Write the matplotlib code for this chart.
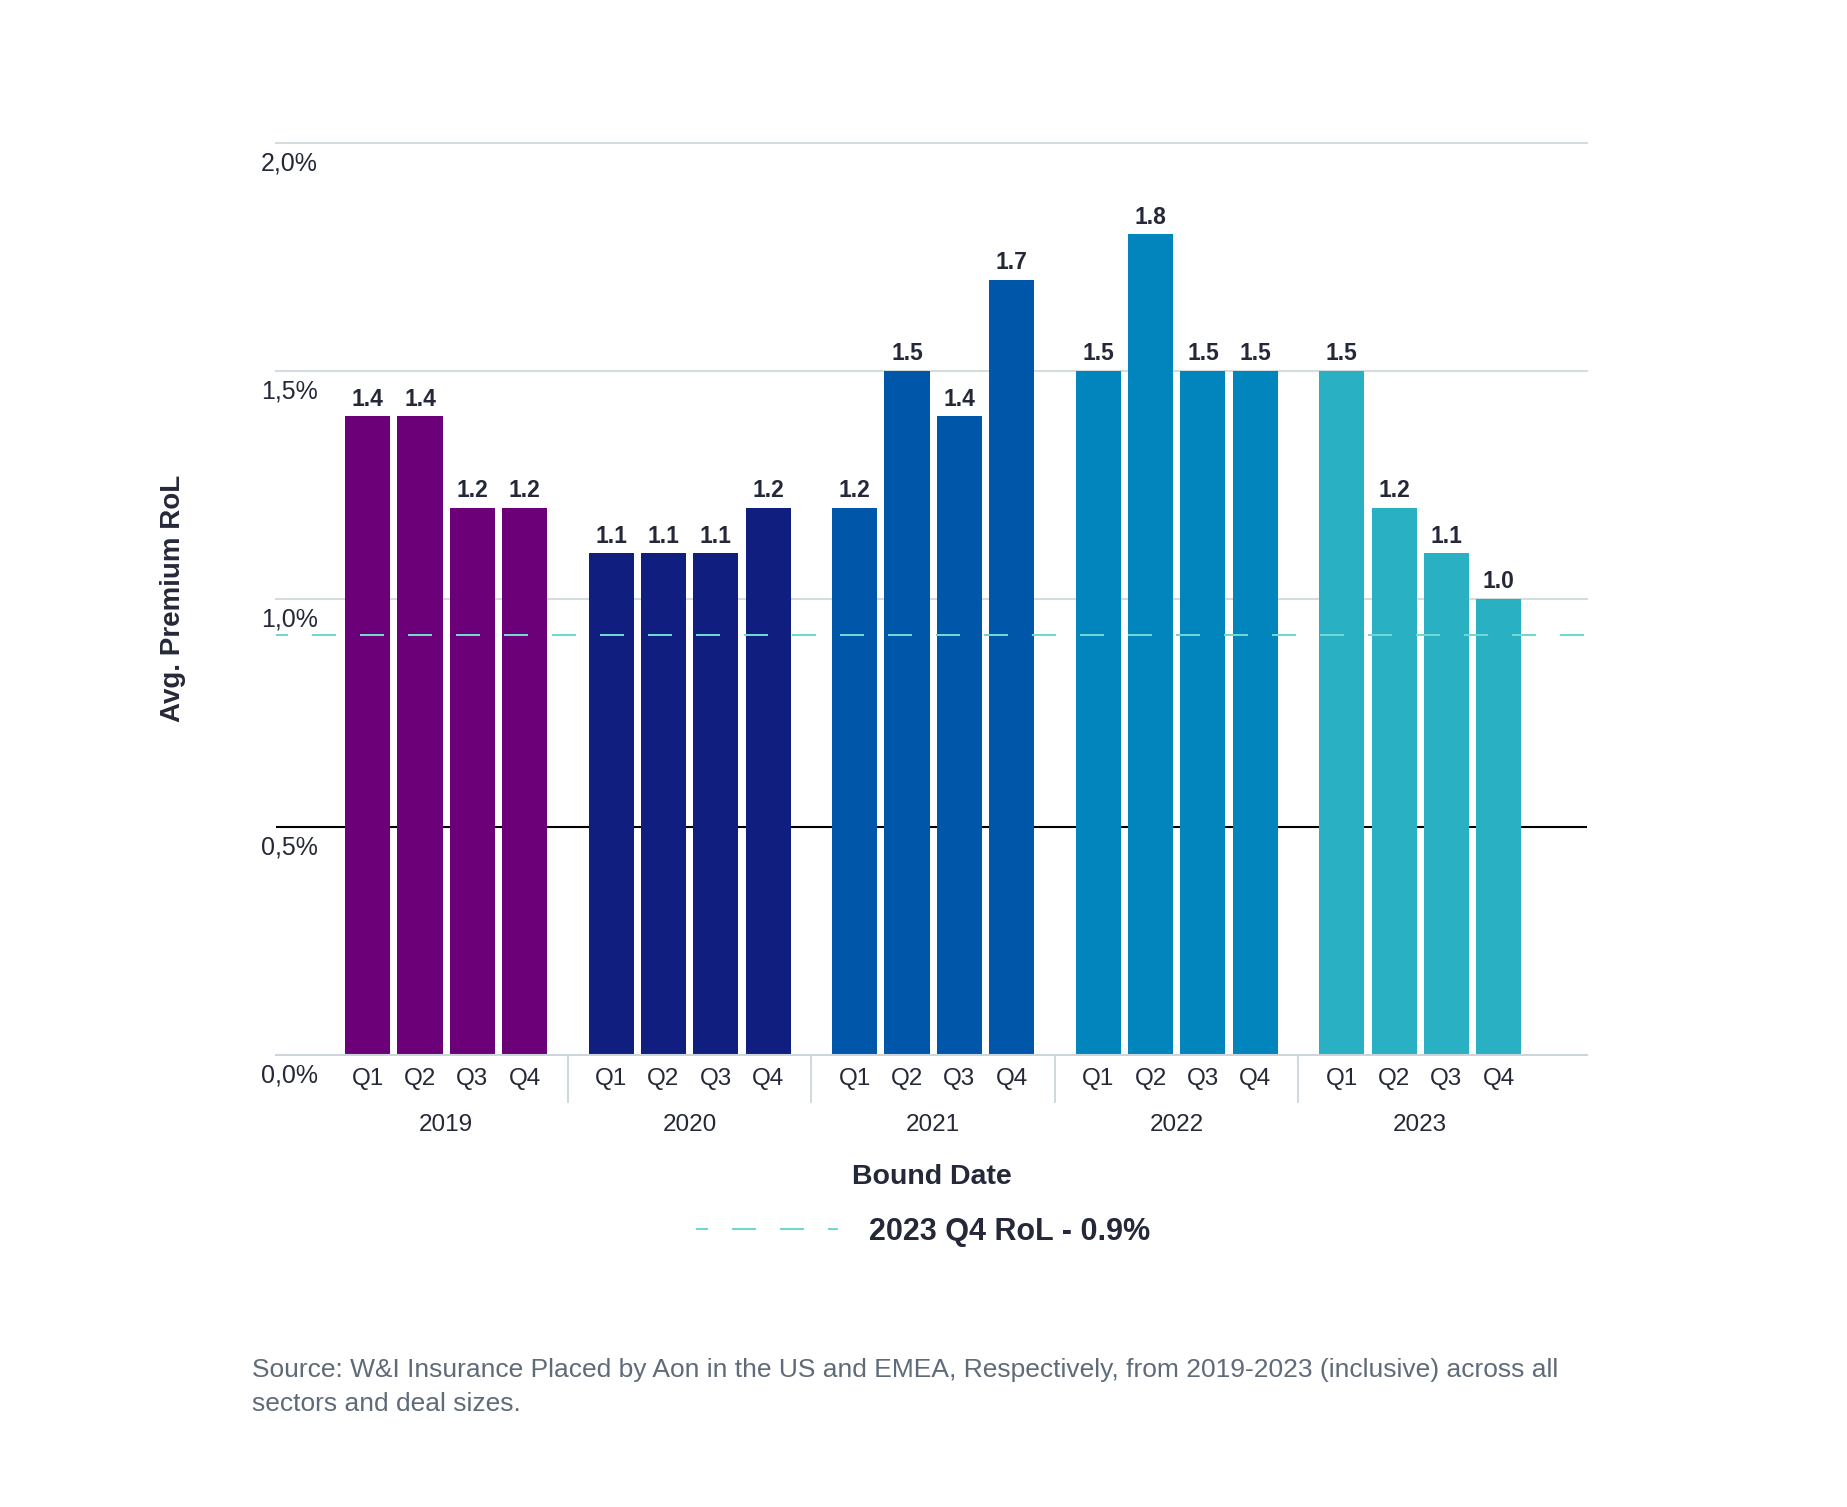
import numpy as np
import matplotlib
matplotlib.use("Agg")
import matplotlib.pyplot as plt
from matplotlib.transforms import ScaledTranslation, blended_transform_factory

# data
years = ["2019", "2020", "2021", "2022", "2023"]
quarters = ["Q1", "Q2", "Q3", "Q4"]
rol_2019 = [1.4, 1.4, 1.2, 1.2]
rol_2020 = [1.1, 1.1, 1.1, 1.2]
rol_2021 = [1.2, 1.5, 1.4, 1.7]
rol_2022 = [1.5, 1.8, 1.5, 1.5]
rol_2023 = [1.5, 1.2, 1.1, 1.0]
rol = [rol_2019, rol_2020, rol_2021, rol_2022, rol_2023]
latest_rol = 0.92
legend_label = "2023 Q4 RoL - 0.9%"
yticks = [0.0, 0.5, 1.0, 1.5, 2.0]
ytick_labels = ["0,0%", "0,5%", "1,0%", "1,5%", "2,0%"]
source = ["Source: W&I Insurance Placed by Aon in the US and EMEA, Respectively, from 2019-2023 (inclusive) across all",
          "sectors and deal sizes."]

year_colors = ["#6c0079", "#101e7f", "#0056a8", "#0284bc", "#29b0c3"]
dark = "#242838"
grid_c = "#d3dcdf"
dash_c = "#6fd8d2"

plt.rcParams['font.family'] = ['Liberation Sans', 'DejaVu Sans']

W, H = 1847, 1507
fig = plt.figure(figsize=(W / 100, H / 100), dpi=100)
ax = fig.add_axes([276 / W, 1 - 1055 / H, 1311 / W, 912.3 / H])

group_step = 4.647
bar_w = 0.859
px = lambda p: p / 100.0  # pixels -> inches

xa = ax.get_xaxis_transform()
ya = blended_transform_factory(ax.transAxes, ax.transData)

for g, year in enumerate(years):
    x = g * group_step + np.arange(len(quarters))
    ax.bar(x, rol[g], width=bar_w, color=year_colors[g], zorder=2)
    for xi, v, q in zip(x, rol[g], quarters):
        ax.annotate(f"{v:.1f}", (xi, v), xytext=(0, 7.5), textcoords='offset points',
                    ha='center', va='baseline', fontsize=16.5, fontweight='bold', color=dark)
        ax.text(xi, 0, q, transform=xa + ScaledTranslation(0, -px(23.5), fig.dpi_scale_trans),
                ha='center', va='center', fontsize=17.5, color=dark)
    ax.text(x.mean(), 0, year, transform=xa + ScaledTranslation(0, -px(70), fig.dpi_scale_trans),
            ha='center', va='center', fontsize=17.5, color=dark)
    if g < len(years) - 1:
        xs = g * group_step + 3 + (group_step - 3) / 2
        ax.plot([xs, xs], [0, -47 / 912.3], transform=xa, clip_on=False,
                color="#ccd6da", lw=1.3, zorder=1)

# grid lines and the black 0.5 line
for t in yticks[2:]:
    ax.axhline(t, color=grid_c, lw=1.5, zorder=1, clip_on=False)
ax.axhline(0.5, color="black", lw=1.5, zorder=1)

ax.axhline(latest_rol, color=dash_c, lw=1.44, linestyle=(6, (12, 12)), zorder=3, label=legend_label)

for t, lab in zip(yticks, ytick_labels):
    ax.text(-15 / 1311, t, lab, transform=ya + ScaledTranslation(0, -px(21), fig.dpi_scale_trans),
            ha='left', va='center', fontsize=18, color=dark)

ax.set_xlim(-1.748, 23.271)
ax.set_ylim(0, 2.0)
ax.set_xticks([])
ax.set_yticks([])
for s in ["top", "left", "right"]:
    ax.spines[s].set_visible(False)
ax.spines["bottom"].set_color("#ccd6da")
ax.spines["bottom"].set_linewidth(1.5)

ax.set_xlabel("Bound Date", fontsize=20.5, fontweight='bold', color=dark)
ax.xaxis.set_label_coords(0.5, (1055 - 1176.7) / 912.3)
ax.xaxis.label.set_va('center')
ax.set_ylabel("Avg. Premium RoL", fontsize=20, fontweight='bold', color=dark)
ax.yaxis.set_label_coords((173.3 - 276) / 1311, 0.5)
ax.yaxis.label.set_va('center')

ax.legend(loc='center', bbox_to_anchor=(923 / W, 1 - 1232 / H), bbox_transform=fig.transFigure,
          frameon=False, prop={'size': 22, 'weight': 'bold'}, labelcolor=dark,
          handlelength=4.64, handletextpad=1.0)

fig.text(251.7 / W, 1 - 1376.7 / H, source[0], fontsize=19, color="#5f6b78", va='baseline')
fig.text(251.7 / W, 1 - 1411 / H, source[1], fontsize=19, color="#5f6b78", va='baseline')

fig.savefig("out.png", dpi=100, facecolor="white")
